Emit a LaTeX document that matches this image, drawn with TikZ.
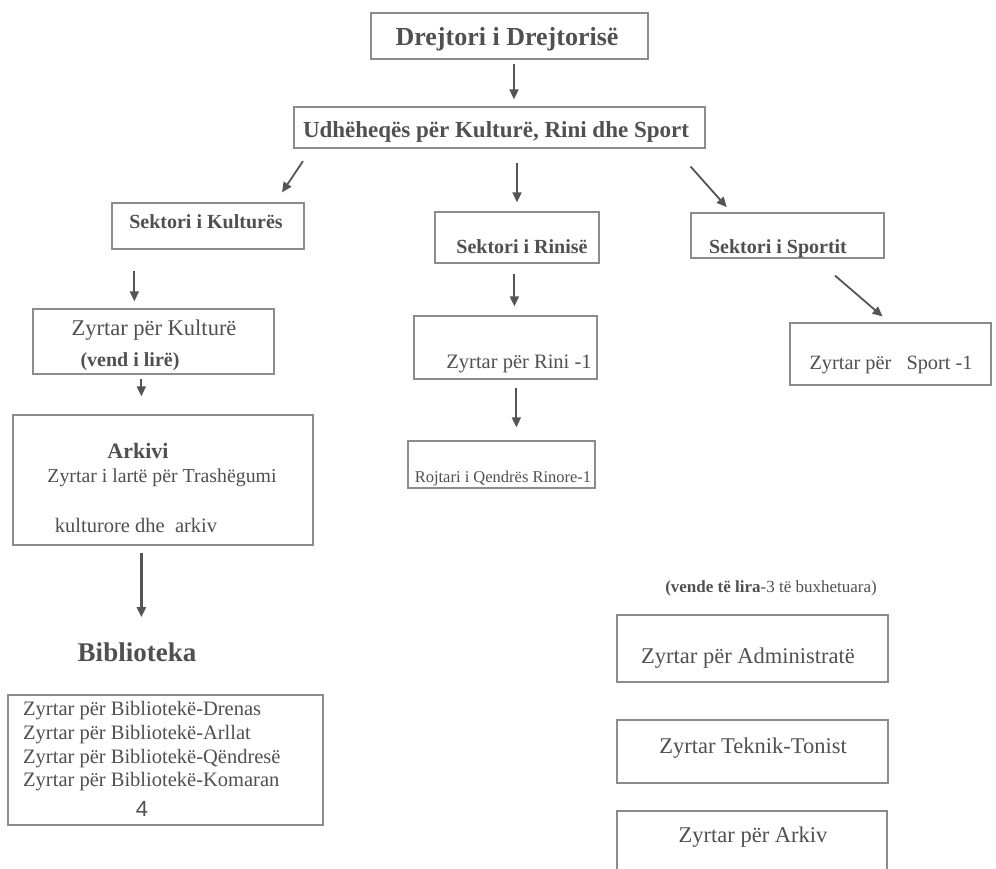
\documentclass[tikz,border=0pt]{standalone}
\usepackage{fontspec}
\setmainfont{Liberation Serif}
\newfontfamily\sansf{Liberation Sans}
\usetikzlibrary{arrows.meta,calc}
\definecolor{boxgray}{HTML}{8C8C8C}
\definecolor{txtgray}{HTML}{505050}
\definecolor{arrgray}{HTML}{555555}
\newcommand\myfs[1]{\fontsize{#1}{#1}\selectfont}
\newcommand\bx[5]{\node[orgbox, minimum width={#4-#2}, minimum height={#5-#3}] (#1) at ({(#2+#4)/2},{(#3+#5)/2}) {};}
\begin{document}
\begin{tikzpicture}[x=1pt,y=-1pt,
  orgbox/.style={draw=boxgray, line width=1.3pt, inner sep=0pt, rectangle},
  txt/.style={inner sep=0pt, text=txtgray, anchor=base},
  arr/.style={draw=arrgray, line width=1.8pt, -{Triangle[length=10pt,width=9pt]}}]
\useasboundingbox (0,0) rectangle (996,868);
\clip (0,0) rectangle (996,868);
\fill[white] (0,0) rectangle (996,868);

% boxes
\bx{dr}{371}{13}{648}{59}
\bx{ud}{294}{107}{705}{148}
\bx{sk}{112}{203}{304}{249}
\bx{rs}{435}{212}{599}{263}
\bx{sp}{691}{213}{884}{258}
\bx{zk}{33}{309}{274}{374}
\bx{zr}{414}{316}{597}{379}
\bx{zs}{790}{323}{991}{385}
\bx{rj}{408}{441}{595}{488}
\bx{ar}{13}{415}{313}{545}
\bx{bb}{8}{695}{323}{825}
\bx{ad}{617}{615}{888}{682}
\bx{tk}{617}{720}{888}{783}
\bx{ak}{617}{811}{887}{890}

% texts
\node[txt] (t-dr) at (507,45) {\myfs{26}\bfseries Drejtori i Drejtorisë};
\node[txt] (t-ud) at (496,137) {\myfs{23}\bfseries Udhëheqës për Kulturë, Rini dhe Sport};
\node[txt] (t-sk) at (206,228) {\myfs{20}\bfseries Sektori i Kulturës};
\node[txt] (t-rs) at (522,253) {\myfs{20}\bfseries Sektori i Rinisë};
\node[txt] (t-sp) at (778,253) {\myfs{20}\bfseries Sektori i Sportit};
\node[txt] (t-zk1) at (154,335) {\myfs{22.5}Zyrtar për Kulturë};
\node[txt] (t-zk2) at (130,366) {\myfs{20}\bfseries (vend i lirë)};
\node[txt] (t-zr) at (519,368) {\myfs{20.5}Zyrtar për Rini -1};
\node[txt] (t-zs) at (891,369) {\myfs{20.3}Zyrtar për \ \ Sport -1};
\node[txt] (t-rj) at (503,482) {\myfs{16.5}Rojtari i Qendrës Rinore-1};
\node[txt] (t-ar1) at (138,458) {\myfs{22}\bfseries Arkivi};
\node[txt] (t-ar2) at (162,482) {\myfs{19.8}Zyrtar i lartë për Trashëgumi};
\node[txt] (t-ar3) at (136,532) {\myfs{20.5}kulturore dhe \ arkiv};
\node[txt] (bt) at (137,661) {\myfs{27}\bfseries Biblioteka};
\node[txt, anchor=base west] (t-bb) at (23,715) {\myfs{20.5}Zyrtar për Bibliotekë-Drenas};
\node[txt, anchor=base west] (t-bb2) at (23,739) {\myfs{20.5}Zyrtar për Bibliotekë-Arllat};
\node[txt, anchor=base west] (t-bb3) at (23,763) {\myfs{20.5}Zyrtar për Bibliotekë-Qëndresë};
\node[txt, anchor=base west] (t-bb4) at (23,786) {\myfs{20.5}Zyrtar për Bibliotekë-Komaran};
\node[txt] (t-bb5) at (142,816) {\sansf\myfs{22}4};
\node[txt] (note) at (771,592) {\myfs{17}\textbf{(vende të lira}-3 të buxhetuara)};
\node[txt] (t-ad) at (748,663) {\myfs{22.5}Zyrtar për Administratë};
\node[txt] (t-tk) at (753,753) {\myfs{22.5}Zyrtar Teknik-Tonist};
\node[txt] (t-ak) at (753,842) {\myfs{22.5}Zyrtar për Arkiv};

% connectors
\draw[arr, shorten <=4pt, shorten >=7pt] (dr.south -| 514,0) -- (ud.north -| 514,0);
\draw[arr, shorten <=15pt, shorten >=12pt] ([xshift=18pt]ud.south west) -- ([xshift=164pt]sk.north west);
\draw[arr, shorten <=14pt, shorten >=9pt] (ud.south -| rs.north) -- (rs.north);
\draw[arr, shorten <=24pt, shorten >=7pt] ([xshift=-31pt]ud.south east) -- ([xshift=41pt]sp.north west);
\draw[arr, shorten <=21pt, shorten >=7pt] ([xshift=23pt]sk.south west) -- ([xshift=102pt]zk.north west);
\draw[arr, shorten <=4pt, shorten >=18pt] ([xshift=109pt]zk.south west) -- ([xshift=109pt]zk.south west |- ar.north);
\draw[arr, shorten <=10pt, shorten >=9pt] ([xshift=80pt]rs.south west) -- ([xshift=80pt]rs.south west |- zr.north);
\draw[arr, shorten <=26pt, shorten >=9pt] ([xshift=125pt]sp.south west) -- ([xshift=100pt]zs.north west);
\draw[arr, shorten <=8pt, shorten >=13pt] ([xshift=103pt]zr.south west) -- ([xshift=103pt]zr.south west |- rj.north);
\draw[arr, line width=2.4pt, shorten <=7pt, shorten >=25pt] ([xshift=129pt]ar.south west) -- ([xshift=129pt]ar.south west |- bt.north);
\end{tikzpicture}
\end{document}
